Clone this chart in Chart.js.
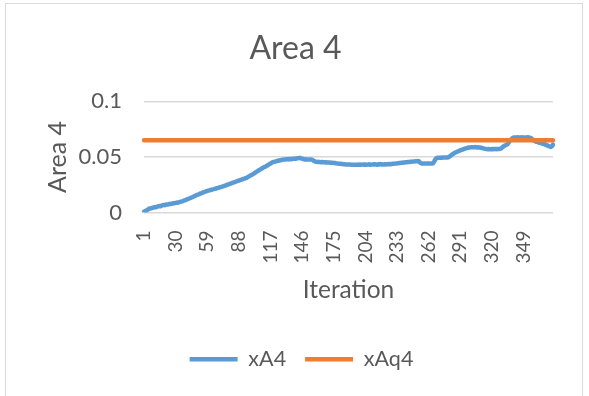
<!DOCTYPE html>
<html>
<head>
<meta charset="utf-8">
<script src="https://cdn.jsdelivr.net/npm/chart.js@4.4.1/dist/chart.umd.min.js"></script>
<style>
  html, body { margin: 0; padding: 0; background: #ffffff; }
  canvas { display: block; }
</style>
</head>
<body>
<canvas id="chart" width="589" height="396"></canvas>
<script>
// Iteration numbers 1..376 along the category axis
const iterations = [];
for (let i = 1; i <= 376; i++) iterations.push(i);

// Every 29th iteration gets a tick label
const labelStep = 29;

// Y axis ticks
const yTickValues = [0, 0.05, 0.1];

// Computed area per iteration
const xA4 = [
  0.0005, 0.0012, 0.0018, 0.0022, 0.0030, 0.0036, 0.0035, 0.0040, 0.0042, 0.0046,
  0.0048, 0.0047, 0.0052, 0.0055, 0.0058, 0.0056, 0.0061, 0.0066, 0.0068, 0.0066,
  0.0070, 0.0073, 0.0072, 0.0076, 0.0078, 0.0077, 0.0080, 0.0084, 0.0083, 0.0087,
  0.0089, 0.0088, 0.0092, 0.0095, 0.0098, 0.0100, 0.0104, 0.0108, 0.0112, 0.0117,
  0.0120, 0.0124, 0.0128, 0.0132, 0.0137, 0.0141, 0.0146, 0.0150, 0.0156, 0.0160,
  0.0163, 0.0168, 0.0172, 0.0175, 0.0180, 0.0183, 0.0187, 0.0192, 0.0194, 0.0197,
  0.0199, 0.0203, 0.0205, 0.0208, 0.0210, 0.0213, 0.0216, 0.0219, 0.0221, 0.0225,
  0.0228, 0.0230, 0.0234, 0.0237, 0.0241, 0.0244, 0.0248, 0.0252, 0.0255, 0.0259,
  0.0262, 0.0266, 0.0270, 0.0273, 0.0277, 0.0281, 0.0284, 0.0288, 0.0291, 0.0295,
  0.0298, 0.0302, 0.0305, 0.0309, 0.0312, 0.0318, 0.0323, 0.0329, 0.0335, 0.0340,
  0.0346, 0.0352, 0.0359, 0.0366, 0.0372, 0.0378, 0.0384, 0.0390, 0.0396, 0.0402,
  0.0407, 0.0412, 0.0417, 0.0423, 0.0429, 0.0435, 0.0441, 0.0447, 0.0453, 0.0456,
  0.0458, 0.0461, 0.0463, 0.0466, 0.0468, 0.0470, 0.0473, 0.0475, 0.0477, 0.0476,
  0.0479, 0.0480, 0.0478, 0.0481, 0.0482, 0.0480, 0.0482, 0.0483, 0.0485, 0.0484,
  0.0487, 0.0489, 0.0490, 0.0492, 0.0488, 0.0485, 0.0481, 0.0478, 0.0479, 0.0477,
  0.0478, 0.0476, 0.0477, 0.0478, 0.0476, 0.0470, 0.0463, 0.0458, 0.0456, 0.0455,
  0.0456, 0.0454, 0.0453, 0.0455, 0.0452, 0.0453, 0.0451, 0.0452, 0.0450, 0.0451,
  0.0450, 0.0448, 0.0449, 0.0447, 0.0446, 0.0445, 0.0443, 0.0442, 0.0440, 0.0439,
  0.0438, 0.0437, 0.0436, 0.0435, 0.0434, 0.0433, 0.0432, 0.0433, 0.0431, 0.0432,
  0.0430, 0.0431, 0.0430, 0.0429, 0.0430, 0.0429, 0.0431, 0.0430, 0.0432, 0.0430,
  0.0431, 0.0433, 0.0430, 0.0432, 0.0430, 0.0431, 0.0434, 0.0430, 0.0432, 0.0431,
  0.0432, 0.0435, 0.0431, 0.0433, 0.0430, 0.0434, 0.0432, 0.0436, 0.0431, 0.0433,
  0.0432, 0.0434, 0.0433, 0.0435, 0.0434, 0.0436, 0.0435, 0.0437, 0.0438, 0.0439,
  0.0440, 0.0441, 0.0442, 0.0444, 0.0445, 0.0446, 0.0447, 0.0448, 0.0450, 0.0451,
  0.0452, 0.0453, 0.0454, 0.0455, 0.0456, 0.0457, 0.0458, 0.0459, 0.0460, 0.0461,
  0.0462, 0.0463, 0.0462, 0.0450, 0.0443, 0.0441, 0.0441, 0.0442, 0.0440, 0.0441,
  0.0442, 0.0441, 0.0440, 0.0442, 0.0441, 0.0443, 0.0458, 0.0476, 0.0488, 0.0492,
  0.0493, 0.0492, 0.0494, 0.0493, 0.0495, 0.0494, 0.0496, 0.0495, 0.0495, 0.0497,
  0.0503, 0.0510, 0.0518, 0.0525, 0.0531, 0.0537, 0.0542, 0.0546, 0.0551, 0.0555,
  0.0559, 0.0563, 0.0566, 0.0570, 0.0574, 0.0577, 0.0580, 0.0583, 0.0585, 0.0586,
  0.0587, 0.0588, 0.0588, 0.0587, 0.0589, 0.0586, 0.0587, 0.0585, 0.0585, 0.0583,
  0.0580, 0.0578, 0.0575, 0.0573, 0.0571, 0.0570, 0.0571, 0.0570, 0.0570, 0.0571,
  0.0570, 0.0572, 0.0571, 0.0570, 0.0572, 0.0571, 0.0572, 0.0575, 0.0582, 0.0590,
  0.0597, 0.0603, 0.0608, 0.0612, 0.0625, 0.0640, 0.0652, 0.0662, 0.0670, 0.0675,
  0.0676, 0.0674, 0.0677, 0.0675, 0.0676, 0.0674, 0.0677, 0.0675, 0.0676, 0.0674,
  0.0676, 0.0675, 0.0677, 0.0675, 0.0674, 0.0668, 0.0660, 0.0652, 0.0645, 0.0640,
  0.0636, 0.0633, 0.0630, 0.0627, 0.0624, 0.0621, 0.0618, 0.0615, 0.0611, 0.0607,
  0.0602, 0.0598, 0.0594, 0.0590, 0.0597, 0.0610
];

// Reference area level (constant across iterations)
const xAq4Level = 0.065;
const xAq4 = iterations.map(() => xAq4Level);

const textColor = '#595959';
const gridColor = '#d9d9d9';
const fontFamily = 'Lato, "Open Sans", sans-serif';

// White background and thin frame around the chart
const framePlugin = {
  id: 'frame',
  afterLayout(chart) {
    // nudge the legend row a little to the right
    chart.legend.left += 6;
    chart.legend.right += 6;
  },
  beforeDraw(chart) {
    const ctx = chart.ctx;
    ctx.save();
    ctx.fillStyle = '#ffffff';
    ctx.fillRect(0, 0, chart.width, chart.height);
    ctx.strokeStyle = '#d9d9d9';
    ctx.lineWidth = 1;
    ctx.strokeRect(5.5, 3.5, 577, 400);
    ctx.restore();
  }
};

new Chart(document.getElementById('chart'), {
  type: 'line',
  data: {
    labels: iterations,
    datasets: [
      {
        label: 'xA4',
        data: xA4,
        borderColor: '#5B9BD5',
        backgroundColor: '#5B9BD5',
        borderWidth: 4.5,
        borderCapStyle: 'round',
        borderJoinStyle: 'round',
        pointRadius: 0,
        tension: 0,
        order: 1
      },
      {
        label: 'xAq4',
        data: xAq4,
        borderColor: '#ED7D31',
        backgroundColor: '#ED7D31',
        borderWidth: 4.5,
        borderCapStyle: 'round',
        borderJoinStyle: 'round',
        pointRadius: 0,
        tension: 0,
        order: 0
      }
    ]
  },
  options: {
    responsive: false,
    devicePixelRatio: 1,
    animation: false,
    layout: { padding: { top: 10, left: 2, right: 0, bottom: 16 } },
    plugins: {
      title: {
        display: true,
        text: 'Area 4',
        color: textColor,
        font: { family: fontFamily, size: 32, weight: 'normal' },
        padding: { top: 19, bottom: 34 }
      },
      legend: {
        position: 'bottom',
        labels: {
          usePointStyle: true,
          pointStyle: 'line',
          pointStyleWidth: 48,
          color: textColor,
          padding: 19,
          font: { family: fontFamily, size: 21.5 },
          sort: (a, b) => a.datasetIndex - b.datasetIndex
        }
      },
      tooltip: { enabled: false }
    },
    scales: {
      x: {
        type: 'category',
        offset: false,
        grid: { display: false, drawTicks: false },
        border: { display: false },
        afterFit(scale) {
          scale.height = 117;
          scale.paddingLeft = 0;
          scale.paddingRight = 0;
        },
        ticks: {
          autoSkip: false,
          minRotation: 90,
          maxRotation: 90,
          padding: 18,
          color: textColor,
          font: { family: fontFamily, size: 19 },
          callback(value, index) {
            return index % labelStep === 0 ? String(iterations[index]) : '';
          }
        },
        title: {
          display: true,
          text: 'Iteration',
          color: textColor,
          font: { family: fontFamily, size: 24.5 },
          padding: { top: 3, bottom: 25 }
        }
      },
      y: {
        min: 0,
        max: 0.1,
        afterBuildTicks(scale) {
          scale.ticks = yTickValues.map(v => ({ value: v }));
        },
        afterFit(scale) { scale.width = 142; },
        grid: { color: gridColor, lineWidth: 1.5, drawTicks: false },
        border: { display: false },
        ticks: {
          padding: 22,
          color: textColor,
          font: { family: fontFamily, size: 22 },
          callback(value) { return String(+value.toFixed(2)); }
        },
        title: {
          display: true,
          text: 'Area 4',
          color: textColor,
          font: { family: fontFamily, size: 25 },
          padding: { top: 40.5, bottom: 0 }
        }
      },
      yRight: {
        position: 'right',
        display: true,
        grid: { display: false, drawTicks: false },
        border: { display: false },
        ticks: { display: false },
        afterFit(scale) { scale.width = 36; }
      }
    }
  },
  plugins: [framePlugin]
});
</script>
</body>
</html>
